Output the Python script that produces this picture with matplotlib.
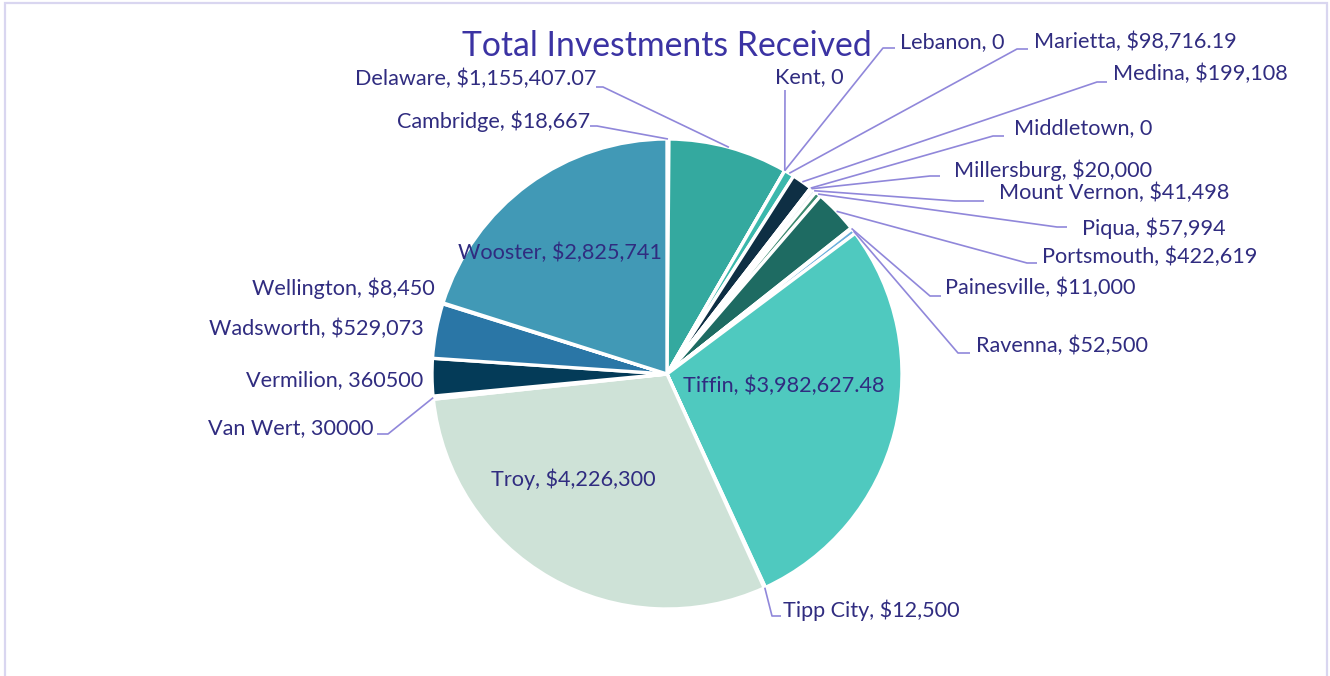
import matplotlib.pyplot as plt
import numpy as np
from matplotlib.patches import Rectangle

# data (order as drawn, clockwise from 12 o'clock)
cities = ['Cambridge', 'Delaware', 'Kent', 'Lebanon', 'Marietta', 'Medina',
          'Middletown', 'Millersburg', 'Mount Vernon', 'Piqua', 'Portsmouth',
          'Painesville', 'Ravenna', 'Tiffin', 'Tipp City', 'Troy', 'Van Wert',
          'Vermilion', 'Wadsworth', 'Wellington', 'Wooster']
amounts = [18667, 1155407.07, 0, 0, 98716.19, 199108,
           0, 20000, 41498, 57994, 422619,
           11000, 52500, 3982627.48, 12500, 4226300, 30000,
           360500, 529073, 8450, 2825741]
amount_text = ['$18,667', '$1,155,407.07', '0', '0', '$98,716.19', '$199,108',
               '0', '$20,000', '$41,498', '$57,994', '$422,619',
               '$11,000', '$52,500', '$3,982,627.48', '$12,500', '$4,226,300', '30000',
               '360500', '$529,073', '$8,450', '$2,825,741']

colors = ['#E4EFEA', '#34A99F', '#34A99F', '#34A99F', '#3BB8AC', '#0E2F44',
          '#0E2F44', '#CFE3D8', '#E6EEF3', '#3C8A70', '#1E6B62',
          '#DDEBF2', '#6AAEDC', '#4FC9BF', '#CFE3D8', '#CEE2D7', '#1F6A60',
          '#043B58', '#2A76A6', '#CFE3D8', '#4199B6']

# label layout in pixels: (x, y, ha, elbow, stub end x)
layout = {
    'Cambridge':    (590, 121, 'right', (597, 126), 590),
    'Delaware':     (596, 79, 'right', (603, 87), 596),
    'Kent':         (809, 77, 'center', (785, 90), None),
    'Lebanon':      (900, 42, 'left', (883, 48), 895),
    'Marietta':     (1034, 42, 'left', (1017, 49), 1028),
    'Medina':       (1113, 74, 'left', (1097, 82), 1107),
    'Middletown':   (1014, 128, 'left', (993, 136), 1004),
    'Millersburg':  (954, 170, 'left', (930, 176), 940),
    'Mount Vernon': (999, 193, 'left', (955, 201), 984),
    'Piqua':        (1082, 228, 'left', (1057, 227), 1067),
    'Portsmouth':   (1042, 257, 'left', (1027, 263), 1037),
    'Painesville':  (945, 288, 'left', (930, 296), 941),
    'Ravenna':      (976, 346, 'left', (958, 353), 970),
    'Tiffin':       (784, 386, 'center', None, None),
    'Tipp City':    (783, 610, 'left', (772, 616), 781),
    'Troy':         (573, 479, 'center', None, None),
    'Van Wert':     (373, 428, 'right', (388, 434), 377),
    'Vermilion':    (423, 380, 'right', None, None),
    'Wadsworth':    (424, 329, 'right', None, None),
    'Wellington':   (435, 288, 'right', None, None),
    'Wooster':      (560, 253, 'center', None, None),
}

W, H = 1330, 676
cx, cy, R = 667, 374, 235
txt_col = '#302C80'
line_col = '#9087DA'
font = ['Lato', 'DejaVu Sans']

fig = plt.figure(figsize=(W / 100, H / 100), dpi=100)
ax = fig.add_axes([0, 0, 1, 1])

wedges, _ = ax.pie(amounts, colors=colors, startangle=90, counterclock=False,
                   center=(cx, H - cy), radius=R,
                   wedgeprops=dict(edgecolor='white', linewidth=2.4))
ax.set_xlim(0, W)
ax.set_ylim(0, H)
ax.set_aspect('auto')
ax.axis('off')

for w, name, amt in zip(wedges, cities, amount_text):
    tx, ty, ha, elbow, stub = layout[name]
    ax.text(tx, H - ty, f'{name}, {amt}', ha=ha, va='center', fontsize=15.6,
            color=txt_col, family=font)
    if elbow is None:
        continue
    mid = np.deg2rad((w.theta1 + w.theta2) / 2)
    px = cx + R * np.cos(mid)
    py = (H - cy) + R * np.sin(mid)
    xs = [px, elbow[0]]
    ys = [py, H - elbow[1]]
    if stub is not None:
        xs.append(stub)
        ys.append(H - elbow[1])
    ax.plot(xs, ys, color=line_col, lw=1.2, solid_capstyle='butt')

ax.text(667, H - 46, 'Total Investments Received', ha='center', va='center',
        fontsize=24.3, color='#3B33A3', family=font)

fig.patches.append(Rectangle((5 / W, -0.05), 1322 / W, 1.05 - 3 / H,
                             transform=fig.transFigure, fill=False,
                             edgecolor='#D9D6F0', lw=1.6))

fig.savefig('out.png', dpi=100)
